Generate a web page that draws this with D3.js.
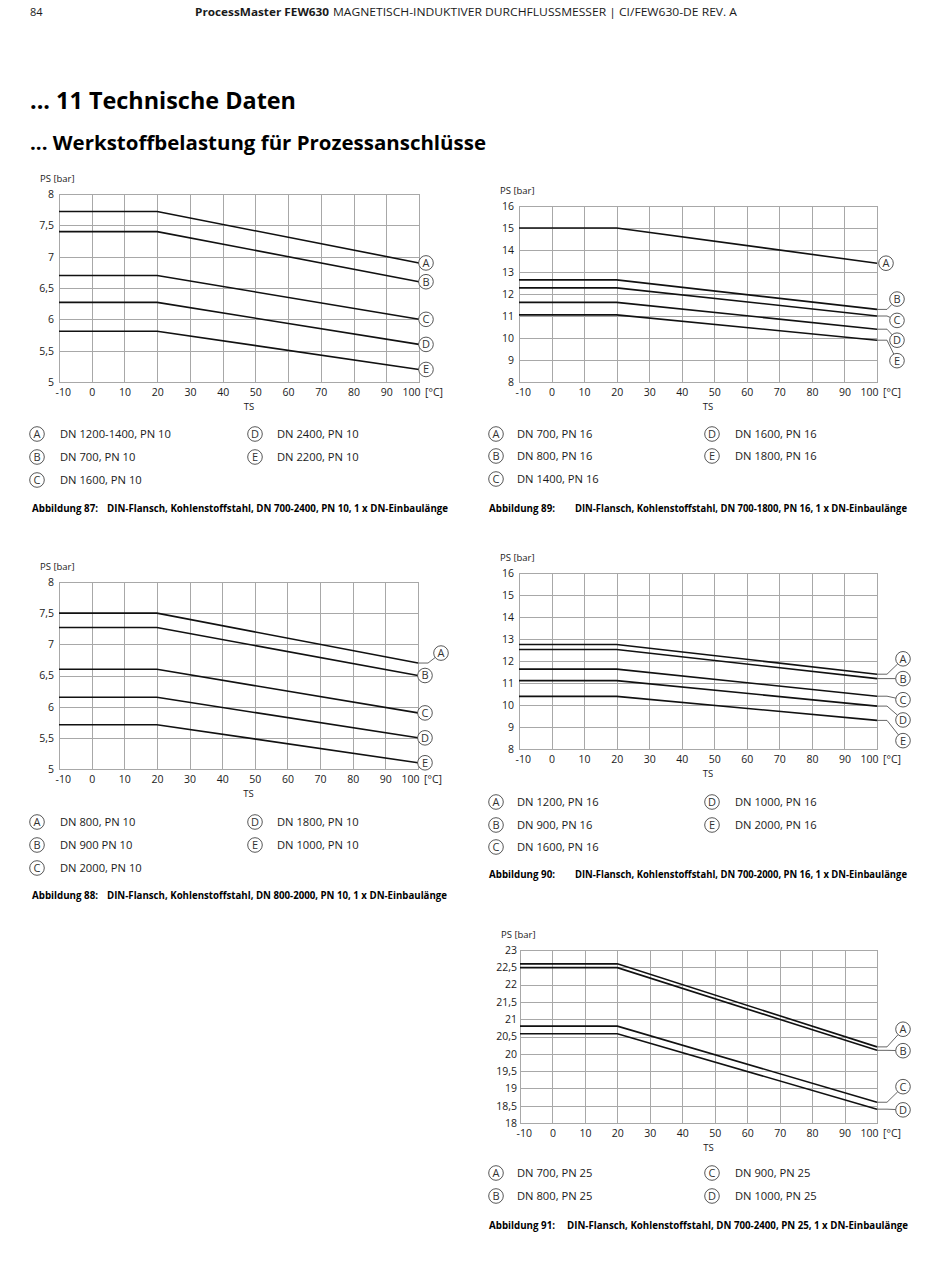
<!DOCTYPE html>
<html><head><meta charset="utf-8">
<script src="https://cdn.jsdelivr.net/npm/d3@7"></script>
<style>body{margin:0;background:#fff}svg{display:block}</style>
</head><body>
<svg id="page" width="950" height="1275"></svg>
<script>
// ---------- DATA ----------
const tsBreaks = [-10, 20, 100];
const xTicks = [-10, 0, 10, 20, 30, 40, 50, 60, 70, 80, 90, 100];

// Abbildung 87
const fig87Keys = ["A", "B", "C", "D", "E"];
const fig87Start = [7.72, 7.4, 6.7, 6.27, 5.81];
const fig87End = [6.9, 6.6, 6.0, 5.6, 5.2];
const fig87YTicks = [5, 5.5, 6, 6.5, 7, 7.5, 8];
const fig87Legend = ["DN 1200-1400, PN 10", "DN 700, PN 10", "DN 1600, PN 10", "DN 2400, PN 10", "DN 2200, PN 10"];

// Abbildung 88
const fig88Keys = ["A", "B", "C", "D", "E"];
const fig88Start = [7.5, 7.27, 6.6, 6.15, 5.71];
const fig88End = [6.7, 6.5, 5.9, 5.5, 5.1];
const fig88YTicks = [5, 5.5, 6, 6.5, 7, 7.5, 8];
const fig88Legend = ["DN 800, PN 10", "DN 900 PN 10", "DN 2000, PN 10", "DN 1800, PN 10", "DN 1000, PN 10"];

// Abbildung 89
const fig89Keys = ["A", "B", "C", "D", "E"];
const fig89Start = [15.0, 12.64, 12.28, 11.62, 11.05];
const fig89End = [13.4, 11.3, 11.0, 10.4, 9.9];
const fig89YTicks = [8, 9, 10, 11, 12, 13, 14, 15, 16];
const fig89Legend = ["DN 700, PN 16", "DN 800, PN 16", "DN 1400, PN 16", "DN 1600, PN 16", "DN 1800, PN 16"];

// Abbildung 90
const fig90Keys = ["A", "B", "C", "D", "E"];
const fig90Start = [12.75, 12.52, 11.63, 11.11, 10.39];
const fig90End = [11.4, 11.2, 10.4, 9.95, 9.3];
const fig90YTicks = [8, 9, 10, 11, 12, 13, 14, 15, 16];
const fig90Legend = ["DN 1200, PN 16", "DN 900, PN 16", "DN 1600, PN 16", "DN 1000, PN 16", "DN 2000, PN 16"];

// Abbildung 91
const fig91Keys = ["A", "B", "C", "D"];
const fig91Start = [22.6, 22.49, 20.8, 20.58];
const fig91End = [20.2, 20.1, 18.6, 18.4];
const fig91YTicks = [18, 18.5, 19, 19.5, 20, 20.5, 21, 21.5, 22, 22.5, 23];
const fig91Legend = ["DN 700, PN 25", "DN 800, PN 25", "DN 900, PN 25", "DN 1000, PN 25"];

const captions = {
  87: "DIN-Flansch, Kohlenstoffstahl, DN 700-2400, PN 10, 1 x DN-Einbaulänge",
  88: "DIN-Flansch, Kohlenstoffstahl, DN 800-2000, PN 10, 1 x DN-Einbaulänge",
  89: "DIN-Flansch, Kohlenstoffstahl, DN 700-1800, PN 16, 1 x DN-Einbaulänge",
  90: "DIN-Flansch, Kohlenstoffstahl, DN 700-2000, PN 16, 1 x DN-Einbaulänge",
  91: "DIN-Flansch, Kohlenstoffstahl, DN 700-2400, PN 25, 1 x DN-Einbaulänge"
};

// ---------- LAYOUT ----------
const FONT = "'Open Sans', 'Noto Sans', sans-serif";
const INK = "#1a1a1a";
const svg = d3.select("#page");

// header
svg.append("text").attr("x", 30).attr("y", 16).attr("font-family", FONT).attr("font-size", 11).attr("fill", INK).text("84");
svg.append("text").attr("x", 195).attr("y", 16).attr("font-family", FONT).attr("font-size", 11).attr("font-weight", "bold")
  .attr("fill", INK).attr("textLength", 134).attr("lengthAdjust", "spacingAndGlyphs").text("ProcessMaster FEW630");
svg.append("text").attr("x", 333).attr("y", 16).attr("font-family", FONT).attr("font-size", 11)
  .attr("fill", INK).attr("textLength", 404).attr("lengthAdjust", "spacingAndGlyphs")
  .text("MAGNETISCH-INDUKTIVER DURCHFLUSSMESSER  |  CI/FEW630-DE REV. A");
svg.append("text").attr("x", 30).attr("y", 109).attr("font-family", FONT).attr("font-size", 24).attr("font-weight", "bold")
  .attr("fill", "#000").attr("textLength", 266).attr("lengthAdjust", "spacingAndGlyphs").text("... 11 Technische Daten");
svg.append("text").attr("x", 30).attr("y", 150).attr("font-family", FONT).attr("font-size", 19).attr("font-weight", "bold")
  .attr("fill", "#000").attr("textLength", 456).attr("lengthAdjust", "spacingAndGlyphs").text("... Werkstoffbelastung für Prozessanschlüsse");

const charts = [
  { fig: 87, keys: fig87Keys, start: fig87Start, end: fig87End, yTicks: fig87YTicks, legend: fig87Legend,
    frame: { l: 59, r: 419, t: 194, b: 382 }, ypad: 5,
    marks: { cx: 426, cy: [null, null, null, null, null] },
    legendPos: { c1: 37, t1: 60, c2: 255, t2: 277, rows: [434, 457, 480], split: 3 },
    cap: { x: 32, dx: 107, y: 512, w: 341 } },
  { fig: 88, keys: fig88Keys, start: fig88Start, end: fig88End, yTicks: fig88YTicks, legend: fig88Legend,
    frame: { l: 59, r: 418, t: 582, b: 769 }, ypad: 5,
    marks: { cx: [441, 425, 425, 425, 425], cy: [6.86, null, null, null, null] },
    legendPos: { c1: 37, t1: 60, c2: 255, t2: 277, rows: [822, 845, 868], split: 3 },
    cap: { x: 32, dx: 107, y: 899, w: 340 } },
  { fig: 89, keys: fig89Keys, start: fig89Start, end: fig89End, yTicks: fig89YTicks, legend: fig89Legend,
    frame: { l: 519, r: 877, t: 206, b: 382 }, ypad: 5,
    marks: { cx: [886, 897, 897, 897, 897], cy: [null, 11.77, 10.8, 9.9, 8.97] },
    legendPos: { c1: 496, t1: 517, c2: 712, t2: 735, rows: [434, 456, 479], split: 3 },
    cap: { x: 489, dx: 575, y: 512, w: 332 } },
  { fig: 90, keys: fig90Keys, start: fig90Start, end: fig90End, yTicks: fig90YTicks, legend: fig90Legend,
    frame: { l: 519, r: 877, t: 573, b: 749 }, ypad: 5,
    marks: { cx: 903, cy: [12.1, 11.2, 10.24, 9.32, 8.38] },
    legendPos: { c1: 496, t1: 517, c2: 712, t2: 735, rows: [802, 825, 847], split: 3 },
    cap: { x: 489, dx: 575, y: 878, w: 332 } },
  { fig: 91, keys: fig91Keys, start: fig91Start, end: fig91End, yTicks: fig91YTicks, legend: fig91Legend,
    frame: { l: 520, r: 877, t: 950, b: 1123 }, ypad: 3,
    marks: { cx: 903, cy: [20.71, 20.09, 19.05, 18.38] },
    legendPos: { c1: 496, t1: 517, c2: 712, t2: 735, rows: [1173, 1196], split: 2 },
    cap: { x: 489, dx: 567, y: 1229, w: 341 } }
];

const fmt = d => String(d).replace(".", ",");
const R = 7.3;

function drawLetterCircle(g, cx, cy, letter) {
  g.append("circle").attr("cx", cx).attr("cy", cy).attr("r", R)
    .attr("fill", "#fff").attr("stroke", "#444").attr("stroke-width", 0.9);
  g.append("text").attr("x", cx).attr("y", cy).attr("dy", "0.36em").attr("text-anchor", "middle")
    .attr("font-family", FONT).attr("font-size", 11).attr("fill", "#333").text(letter);
}

charts.forEach(c => {
  const f = c.frame;
  const x = d3.scaleLinear().domain([-10, 100]).range([f.l, f.r]);
  const yDom = d3.extent(c.yTicks);
  const y = d3.scaleLinear().domain(yDom).range([f.b, f.t]);
  const g = svg.append("g");

  // grid via axes
  const xa = g.append("g").attr("transform", `translate(0,${f.b})`)
    .call(d3.axisBottom(x).tickValues(xTicks).tickSize(-(f.b - f.t)).tickPadding(7).tickFormat(d => String(d)));
  const ya = g.append("g").attr("transform", `translate(${f.l},0)`)
    .call(d3.axisLeft(y).tickValues(c.yTicks).tickSize(-(f.r - f.l)).tickPadding(c.ypad).tickFormat(fmt));
  [xa, ya].forEach(a => {
    a.select(".domain").remove();
    a.selectAll("line").attr("stroke", "#a8a8a8").attr("stroke-width", 1).attr("shape-rendering", "crispEdges");
    a.selectAll("text").attr("font-family", FONT).attr("font-size", 10.5).attr("fill", INK);
  });
  xa.selectAll(".tick text").filter(d => d === -10).attr("text-anchor", "start").attr("x", -4);
  xa.selectAll(".tick text").filter(d => d === 100).attr("text-anchor", "end").attr("x", 1);
  g.append("rect").attr("x", f.l).attr("y", f.t).attr("width", f.r - f.l).attr("height", f.b - f.t)
    .attr("fill", "none").attr("stroke", "#a8a8a8").attr("stroke-width", 1).attr("shape-rendering", "crispEdges");

  g.append("text").attr("x", f.r + 6).attr("y", f.b + 7).attr("dy", "0.71em").attr("font-family", FONT)
    .attr("font-size", 10.5).attr("fill", INK).text("[°C]");
  g.append("text").attr("x", (f.l + f.r) / 2 + 10).attr("y", f.b + 25).attr("dy", "0.35em").attr("text-anchor", "middle")
    .attr("font-family", FONT).attr("font-size", 9.5).attr("fill", INK).text("TS");
  g.append("text").attr("x", f.l - 19).attr("y", f.t - 15).attr("dy", "0.35em")
    .attr("font-family", FONT).attr("font-size", 9.5).attr("fill", INK).text("PS [bar]");

  // series
  const line = d3.line().x(d => x(d[0])).y(d => y(d[1]));
  c.keys.forEach((k, i) => {
    const vals = [c.start[i], c.start[i], c.end[i]];
    const pts = tsBreaks.map((t, j) => [t, vals[j]]);
    g.append("path").attr("d", line(pts)).attr("fill", "none").attr("stroke", "#111").attr("stroke-width", 1.6);

    const cx = Array.isArray(c.marks.cx) ? c.marks.cx[i] : c.marks.cx;
    const cyv = c.marks.cy[i];
    const ex = x(100), ey = y(c.end[i]);
    let cyPix;
    if (cyv === null) {
      cyPix = ey;
    } else {
      cyPix = y(cyv);
      const elbowX = ex + 10;
      const dxp = cx - elbowX, dyp = cyPix - ey;
      const len = Math.hypot(dxp, dyp);
      const tx = cx - dxp / len * R, ty = cyPix - dyp / len * R;
      g.append("path").attr("d", `M${ex},${ey}H${elbowX}L${tx},${ty}`)
        .attr("fill", "none").attr("stroke", "#555").attr("stroke-width", 0.9);
    }
    drawLetterCircle(g, cx, cyPix, k);
  });

  // legend
  const L = c.legendPos;
  c.legend.forEach((t, i) => {
    const col = i < L.split ? 0 : 1;
    const row = col === 0 ? i : i - L.split;
    const cx = col === 0 ? L.c1 : L.c2, tx = col === 0 ? L.t1 : L.t2;
    const cy = L.rows[row];
    drawLetterCircle(g, cx, cy, c.keys[i]);
    g.append("text").attr("x", tx).attr("y", cy).attr("dy", "0.36em").attr("font-family", FONT)
      .attr("font-size", 11.2).attr("fill", INK).text(t);
  });

  // caption
  g.append("text").attr("x", c.cap.x).attr("y", c.cap.y).attr("font-family", FONT).attr("font-size", 10)
    .attr("font-weight", "bold").attr("fill", "#000").attr("textLength", 66).attr("lengthAdjust", "spacingAndGlyphs")
    .text(`Abbildung ${c.fig}:`);
  g.append("text").attr("x", c.cap.dx).attr("y", c.cap.y).attr("font-family", FONT).attr("font-size", 10)
    .attr("font-weight", "bold").attr("fill", "#000").attr("textLength", c.cap.w).attr("lengthAdjust", "spacingAndGlyphs")
    .text(captions[c.fig]);
});
</script>
</body></html>
